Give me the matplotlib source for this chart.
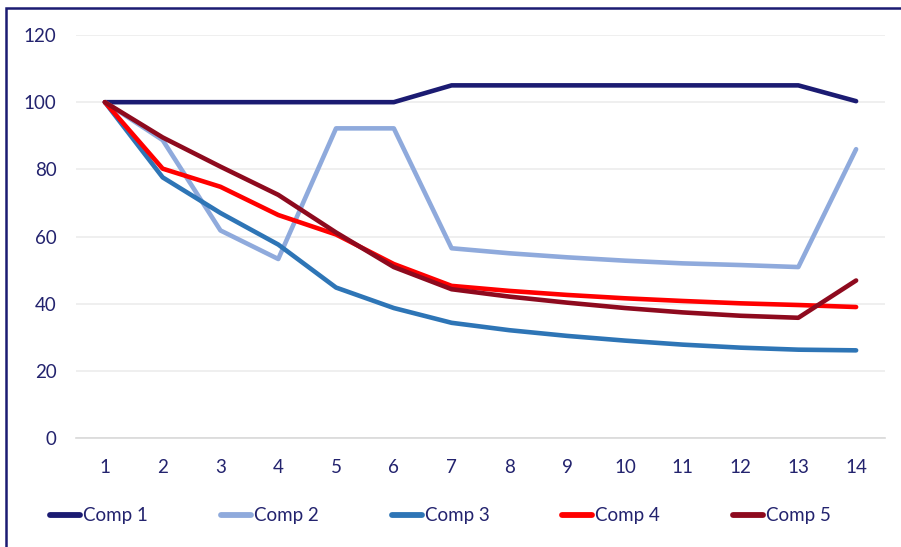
import matplotlib
matplotlib.use("Agg")
import matplotlib.pyplot as plt
from matplotlib.patches import Rectangle
from matplotlib.lines import Line2D

periods = list(range(1, 15))
comp1 = [100, 100, 100, 100, 100, 100, 105, 105, 105, 105, 105, 105, 105, 100.3]
comp2 = [100, 88.7, 61.8, 53.3, 92.2, 92.2, 56.5, 55.0, 53.8, 52.8, 52.0, 51.5, 50.9, 86.0]
comp3 = [100, 77.6, 67.0, 57.6, 44.8, 38.7, 34.3, 32.1, 30.4, 29.0, 27.8, 26.9, 26.3, 26.1]
comp4 = [100, 80.2, 74.8, 66.4, 60.6, 51.8, 45.3, 43.8, 42.6, 41.6, 40.8, 40.1, 39.6, 39.0]
comp5 = [100, 89.5, 80.8, 72.4, 61.2, 50.9, 44.3, 42.1, 40.3, 38.7, 37.4, 36.4, 35.8, 46.9]

names = ["Comp 1", "Comp 2", "Comp 3", "Comp 4", "Comp 5"]
colors = ["#1b1b72", "#8faadc", "#2e75b6", "#ff0000", "#8e0a1e"]
series = [comp1, comp2, comp3, comp4, comp5]

text_color = "#23236e"
plt.rcParams["font.family"] = ["Lato", "DejaVu Sans"]

fig = plt.figure(figsize=(9.01, 5.47), dpi=100)
ax = fig.add_axes([76 / 901, 109 / 547, 809 / 901, 403 / 547])

for vals, col, name in zip(series, colors, names):
    ax.plot(periods, vals, color=col, lw=3.3, solid_capstyle="round",
            solid_joinstyle="round", label=name)

ax.set_xlim(0.5, 14.5)
ax.set_ylim(0, 120)
ax.set_yticks(range(0, 121, 20))
ax.set_xticks(periods)
ax.grid(axis="y", color="#ececec", lw=1.2)
ax.set_axisbelow(True)
for s in ["top", "right", "left"]:
    ax.spines[s].set_visible(False)
ax.spines["bottom"].set_color("#d9d9d9")
ax.spines["bottom"].set_linewidth(1.2)
ax.tick_params(length=0, labelsize=13.5, labelcolor=text_color)
ax.tick_params(axis="y", pad=14)
ax.tick_params(axis="x", pad=15)

handles = [Line2D([0], [0], color=c, lw=4.2, solid_capstyle="round") for c in colors]
fig.legend(handles, names, loc="center", bbox_to_anchor=(0.489, 0.057), ncol=5,
           frameon=False, fontsize=13.5, labelcolor=text_color, handlelength=1.6,
           handletextpad=0.15, columnspacing=3.9)

fig.patches.append(Rectangle((6 / 901, -0.1), 1.2, 1.1 - 8 / 547,
                             transform=fig.transFigure, fill=False,
                             edgecolor="#1b1b72", lw=1.8))

fig.savefig("out.png", dpi=100)
